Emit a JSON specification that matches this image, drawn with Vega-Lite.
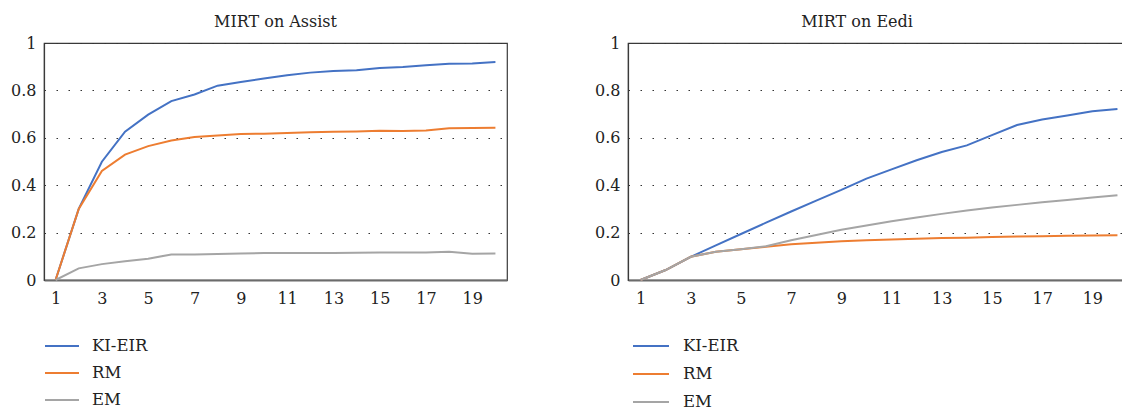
{
  "$schema": "https://vega.github.io/schema/vega-lite/v6.json",
  "padding": {"left": 9, "top": 13, "right": 0, "bottom": 0},
  "background": "white",
  "datasets": {
    "assist": [
      {"x":1,"m":"KI-EIR","v":0},{"x":2,"m":"KI-EIR","v":0.30},{"x":3,"m":"KI-EIR","v":0.499},{"x":4,"m":"KI-EIR","v":0.626},{"x":5,"m":"KI-EIR","v":0.698},{"x":6,"m":"KI-EIR","v":0.755},{"x":7,"m":"KI-EIR","v":0.783},{"x":8,"m":"KI-EIR","v":0.82},{"x":9,"m":"KI-EIR","v":0.835},{"x":10,"m":"KI-EIR","v":0.85},{"x":11,"m":"KI-EIR","v":0.864},{"x":12,"m":"KI-EIR","v":0.875},{"x":13,"m":"KI-EIR","v":0.882},{"x":14,"m":"KI-EIR","v":0.885},{"x":15,"m":"KI-EIR","v":0.895},{"x":16,"m":"KI-EIR","v":0.899},{"x":17,"m":"KI-EIR","v":0.906},{"x":18,"m":"KI-EIR","v":0.912},{"x":19,"m":"KI-EIR","v":0.914},{"x":20,"m":"KI-EIR","v":0.92},
      {"x":1,"m":"RM","v":0},{"x":2,"m":"RM","v":0.30},{"x":3,"m":"RM","v":0.46},{"x":4,"m":"RM","v":0.529},{"x":5,"m":"RM","v":0.565},{"x":6,"m":"RM","v":0.589},{"x":7,"m":"RM","v":0.603},{"x":8,"m":"RM","v":0.61},{"x":9,"m":"RM","v":0.616},{"x":10,"m":"RM","v":0.617},{"x":11,"m":"RM","v":0.62},{"x":12,"m":"RM","v":0.623},{"x":13,"m":"RM","v":0.626},{"x":14,"m":"RM","v":0.627},{"x":15,"m":"RM","v":0.63},{"x":16,"m":"RM","v":0.629},{"x":17,"m":"RM","v":0.631},{"x":18,"m":"RM","v":0.64},{"x":19,"m":"RM","v":0.641},{"x":20,"m":"RM","v":0.642},
      {"x":1,"m":"EM","v":0},{"x":2,"m":"EM","v":0.049},{"x":3,"m":"EM","v":0.067},{"x":4,"m":"EM","v":0.079},{"x":5,"m":"EM","v":0.09},{"x":6,"m":"EM","v":0.108},{"x":7,"m":"EM","v":0.108},{"x":8,"m":"EM","v":0.11},{"x":9,"m":"EM","v":0.112},{"x":10,"m":"EM","v":0.114},{"x":11,"m":"EM","v":0.114},{"x":12,"m":"EM","v":0.114},{"x":13,"m":"EM","v":0.114},{"x":14,"m":"EM","v":0.115},{"x":15,"m":"EM","v":0.116},{"x":16,"m":"EM","v":0.116},{"x":17,"m":"EM","v":0.116},{"x":18,"m":"EM","v":0.119},{"x":19,"m":"EM","v":0.111},{"x":20,"m":"EM","v":0.112}
    ],
    "eedi": [
      {"x":1,"m":"KI-EIR","v":0},{"x":2,"m":"KI-EIR","v":0.042},{"x":3,"m":"KI-EIR","v":0.098},{"x":4,"m":"KI-EIR","v":0.146},{"x":5,"m":"KI-EIR","v":0.194},{"x":6,"m":"KI-EIR","v":0.242},{"x":7,"m":"KI-EIR","v":0.289},{"x":8,"m":"KI-EIR","v":0.335},{"x":9,"m":"KI-EIR","v":0.38},{"x":10,"m":"KI-EIR","v":0.428},{"x":11,"m":"KI-EIR","v":0.467},{"x":12,"m":"KI-EIR","v":0.505},{"x":13,"m":"KI-EIR","v":0.54},{"x":14,"m":"KI-EIR","v":0.568},{"x":15,"m":"KI-EIR","v":0.611},{"x":16,"m":"KI-EIR","v":0.654},{"x":17,"m":"KI-EIR","v":0.677},{"x":18,"m":"KI-EIR","v":0.694},{"x":19,"m":"KI-EIR","v":0.712},{"x":20,"m":"KI-EIR","v":0.722},
      {"x":1,"m":"RM","v":0},{"x":2,"m":"RM","v":0.042},{"x":3,"m":"RM","v":0.098},{"x":4,"m":"RM","v":0.119},{"x":5,"m":"RM","v":0.13},{"x":6,"m":"RM","v":0.14},{"x":7,"m":"RM","v":0.151},{"x":8,"m":"RM","v":0.157},{"x":9,"m":"RM","v":0.163},{"x":10,"m":"RM","v":0.168},{"x":11,"m":"RM","v":0.171},{"x":12,"m":"RM","v":0.174},{"x":13,"m":"RM","v":0.177},{"x":14,"m":"RM","v":0.178},{"x":15,"m":"RM","v":0.181},{"x":16,"m":"RM","v":0.184},{"x":17,"m":"RM","v":0.185},{"x":18,"m":"RM","v":0.187},{"x":19,"m":"RM","v":0.188},{"x":20,"m":"RM","v":0.189},
      {"x":1,"m":"EM","v":0},{"x":2,"m":"EM","v":0.042},{"x":3,"m":"EM","v":0.098},{"x":4,"m":"EM","v":0.119},{"x":5,"m":"EM","v":0.13},{"x":6,"m":"EM","v":0.142},{"x":7,"m":"EM","v":0.168},{"x":8,"m":"EM","v":0.19},{"x":9,"m":"EM","v":0.212},{"x":10,"m":"EM","v":0.23},{"x":11,"m":"EM","v":0.248},{"x":12,"m":"EM","v":0.264},{"x":13,"m":"EM","v":0.279},{"x":14,"m":"EM","v":0.293},{"x":15,"m":"EM","v":0.306},{"x":16,"m":"EM","v":0.317},{"x":17,"m":"EM","v":0.328},{"x":18,"m":"EM","v":0.338},{"x":19,"m":"EM","v":0.348},{"x":20,"m":"EM","v":0.358}
    ]
  },
  "config": {
    "font": "DejaVu Serif",
    "view": {"stroke": "#3a3a3a", "strokeWidth": 1.2},
    "title": {"font": "DejaVu Serif", "fontSize": 16, "fontWeight": "normal", "color": "#222222", "offset": 5},
    "axis": {"labelFont": "DejaVu Serif", "labelFontSize": 16, "labelColor": "#222222", "ticks": false, "title": null},
    "legend": {"labelFont": "DejaVu Serif", "labelFontSize": 16.5, "labelColor": "#222222"},
    "line": {"strokeWidth": 2}
  },
  "spacing": 85,
  "resolve": {"legend": {"color": "independent"}, "scale": {"color": "independent"}},
  "hconcat": [
    {
      "data": {"name": "assist"},
      "title": {"text": "MIRT on Assist"},
      "width": 463,
      "height": 237,
      "mark": {"type": "line", "strokeWidth": 2},
      "encoding": {
        "x": {"field": "x", "type": "quantitative", "scale": {"domain": [0.5, 20.5], "nice": false, "zero": false},
              "axis": {"values": [1,3,5,7,9,11,13,15,17,19], "grid": false, "domainColor": "#6b6b6b", "domainWidth": 2.2, "labelPadding": 10, "labelFlush": false}},
        "y": {"field": "v", "type": "quantitative", "scale": {"domain": [0, 1], "nice": false},
              "axis": {"values": [0,0.2,0.4,0.6,0.8,1], "format": ".1~f", "grid": true, "gridColor": "#333333", "gridDash": [1.5, 10.5], "gridWidth": 1.2, "domainColor": "#3a3a3a", "domainWidth": 1.2, "labelPadding": 8, "minExtent": 34, "maxExtent": 34}},
        "color": {"field": "m", "type": "nominal",
                  "scale": {"domain": ["KI-EIR","RM","EM"], "range": ["#4472C4","#ED7D31","#A5A5A5"]},
                  "legend": {"orient": "none", "legendX": 0, "legendY": 285, "title": null, "symbolType": "stroke", "symbolSize": 1156, "symbolStrokeWidth": 2.5, "rowPadding": -8.5, "labelOffset": 12, "direction": "vertical"}}
      }
    },
    {
      "data": {"name": "eedi"},
      "title": {"text": "MIRT on Eedi", "dx": -22},
      "width": 502,
      "height": 237,
      "mark": {"type": "line", "strokeWidth": 2},
      "encoding": {
        "x": {"field": "x", "type": "quantitative", "scale": {"domain": [0.5, 20.5], "nice": false, "zero": false},
              "axis": {"values": [1,3,5,7,9,11,13,15,17,19], "grid": false, "domainColor": "#6b6b6b", "domainWidth": 2.2, "labelPadding": 10, "labelFlush": false}},
        "y": {"field": "v", "type": "quantitative", "scale": {"domain": [0, 1], "nice": false},
              "axis": {"values": [0,0.2,0.4,0.6,0.8,1], "format": ".1~f", "grid": true, "gridColor": "#333333", "gridDash": [1.5, 10.5], "gridWidth": 1.2, "domainColor": "#3a3a3a", "domainWidth": 1.2, "labelPadding": 8, "minExtent": 34, "maxExtent": 34}},
        "color": {"field": "m", "type": "nominal",
                  "scale": {"domain": ["KI-EIR","RM","EM"], "range": ["#4472C4","#ED7D31","#A5A5A5"]},
                  "legend": {"orient": "none", "legendX": 4, "legendY": 284, "title": null, "symbolType": "stroke", "symbolSize": 1296, "symbolStrokeWidth": 2.5, "rowPadding": -10.5, "labelOffset": 13, "direction": "vertical"}}
      }
    }
  ]
}
